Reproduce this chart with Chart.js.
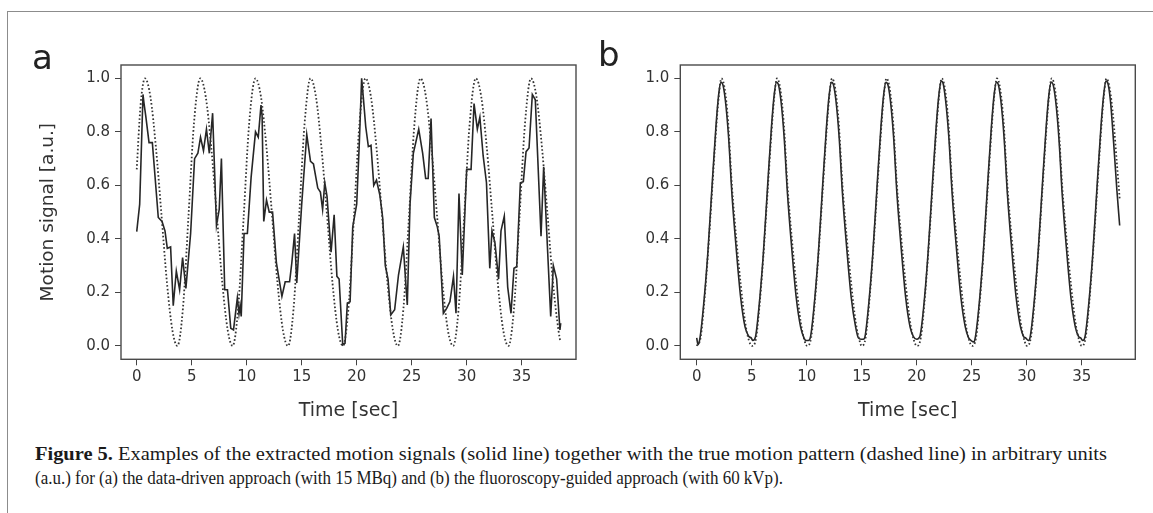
<!DOCTYPE html>
<html><head><meta charset="utf-8">
<script src="https://cdn.jsdelivr.net/npm/chart.js@4.4.1/dist/chart.umd.min.js"></script>
<style>
html,body{margin:0;padding:0;background:#fff;}
#page{position:relative;width:1153px;height:513px;overflow:hidden;background:#fff;}
.frameTop{position:absolute;left:7px;top:11px;width:1146px;height:0;border-top:1.5px solid #8c8c8c;}
.frameLeft{position:absolute;left:7px;top:11px;width:0;height:502px;border-left:1.5px solid #8c8c8c;}
canvas{position:absolute;top:0;}
.plabel{position:absolute;font-family:"DejaVu Sans";font-size:34px;color:#222;line-height:1;}
.cap{position:absolute;left:35px;font-family:"Liberation Serif";font-size:18px;color:#1a1a1a;white-space:nowrap;transform-origin:0 0;line-height:1;}
.cap b{font-family:"Liberation Serif";font-weight:bold;}
</style></head>
<body>
<div id="page">
  <div class="frameTop"></div>
  <div class="frameLeft"></div>
  <canvas id="chartA" width="590" height="430" style="left:0px"></canvas>
  <canvas id="chartB" width="560" height="430" style="left:590px"></canvas>
  <div class="plabel" style="left:32px;top:40px">a</div>
  <div class="plabel" style="left:598px;top:37px">b</div>
  <div class="cap" id="cap1" style="top:445px"><b>Figure 5.</b> Examples of the extracted motion signals (solid line) together with the true motion pattern (dashed line) in arbitrary units</div>
  <div class="cap" id="cap2" style="top:469px">(a.u.) for (a) the data-driven approach (with 15 MBq) and (b) the fluoroscopy-guided approach (with 60 kVp).</div>
</div>
<script>
// ---- data ----
const xTicks = [0, 5, 10, 15, 20, 25, 30, 35];
const yTicks = [0.0, 0.2, 0.4, 0.6, 0.8, 1.0];

// panel a: extracted signal (solid)
const timeA = [0,0.27,0.57,0.65,0.82,1.12,1.42,1.96,2.3,2.57,2.78,3.08,3.32,3.6,3.9,4.17,4.47,4.9,
5.26,5.56,5.8,6.07,6.34,6.6,6.9,7.25,7.5,7.7,8.0,8.25,8.55,8.8,9.15,9.3,9.4,9.5,9.76,
10.06,10.4,10.8,11.05,11.3,11.4,11.55,11.8,12.05,12.35,12.7,13.2,13.5,13.9,14.1,14.35,14.55,
15.0,15.46,15.8,16.07,16.46,16.7,16.9,17.1,17.3,17.67,17.95,18.2,18.4,18.73,18.94,19.15,19.4,19.64,
20.0,20.24,20.45,20.6,20.82,21.06,21.3,21.55,21.8,22.1,22.36,22.6,22.85,23.1,23.45,23.8,24.24,24.6,24.85,
25.15,25.64,26.0,26.27,26.5,26.76,27.06,27.33,27.5,27.88,28.18,28.48,28.8,29.03,29.3,29.6,
30.0,30.4,30.67,30.97,31.2,31.5,31.8,32.1,32.3,32.57,32.9,33.12,33.42,33.73,34.03,34.3,34.55,34.88,
35.15,35.4,35.67,35.97,36.24,36.76,37.0,37.64,37.88,38.18,38.48,38.55];
const signalA = [0.427,0.53,0.94,0.91,0.86,0.76,0.76,0.48,0.465,0.43,0.365,0.37,0.15,0.28,0.21,0.33,0.215,0.42,
0.70,0.72,0.78,0.73,0.81,0.72,0.87,0.45,0.51,0.70,0.21,0.21,0.066,0.06,0.18,0.12,0.15,0.11,0.42,
0.42,0.63,0.80,0.78,0.90,0.86,0.465,0.545,0.50,0.50,0.31,0.185,0.24,0.24,0.31,0.42,0.235,
0.53,0.79,0.69,0.68,0.59,0.575,0.51,0.61,0.56,0.35,0.49,0.26,0.25,0.004,0.01,0.16,0.165,0.445,
0.53,0.76,1.0,0.93,0.82,0.745,0.75,0.60,0.62,0.565,0.48,0.30,0.25,0.116,0.135,0.265,0.37,0.153,0.53,
0.72,0.81,0.72,0.626,0.626,0.85,0.48,0.445,0.41,0.122,0.14,0.166,0.26,0.122,0.57,0.265,
0.66,0.66,0.906,0.81,0.855,0.71,0.61,0.29,0.43,0.385,0.25,0.43,0.485,0.22,0.122,0.29,0.296,0.61,
0.614,0.726,0.74,0.94,0.92,0.41,0.67,0.11,0.30,0.25,0.06,0.085];

// panel a: true motion pattern (dotted)
const truthTimeA = [0,0.35,0.75,
1.25,1.75,2.25,2.75,3.25,3.7,4.2,4.7,5.2,5.78,
6.28,6.78,7.28,7.78,8.28,8.72,9.22,9.72,10.22,10.8,
11.3,11.8,12.3,12.8,13.3,13.76,14.26,14.76,15.26,15.8,
16.3,16.8,17.3,17.8,18.3,18.75,19.25,19.75,20.25,20.8,
21.3,21.8,22.3,22.8,23.3,23.75,24.25,24.75,25.25,25.8,
26.3,26.8,27.3,27.8,28.3,28.77,29.27,29.77,30.27,30.83,
31.33,31.83,32.33,32.83,33.33,33.8,34.3,34.8,35.3,35.85,
36.35,36.85,37.35,37.85,38.35,38.5];
const truthA = [0.66,0.90,1.0,
0.93,0.74,0.49,0.235,0.057,0.0,0.14,0.48,0.83,1.0,
0.93,0.74,0.49,0.235,0.057,0.0,0.14,0.48,0.83,1.0,
0.93,0.74,0.49,0.235,0.057,0.0,0.14,0.48,0.83,1.0,
0.93,0.74,0.49,0.235,0.057,0.0,0.14,0.48,0.83,1.0,
0.93,0.74,0.49,0.235,0.057,0.0,0.14,0.48,0.83,1.0,
0.93,0.74,0.49,0.235,0.057,0.0,0.14,0.48,0.83,1.0,
0.93,0.74,0.49,0.235,0.057,0.0,0.14,0.48,0.83,1.0,
0.93,0.74,0.49,0.235,0.057,0.02];

// panel b: extracted signal (solid)
const timeB = [0,0.12,0.3,0.6,1.0,1.4,1.75,2.0,2.2,2.35,2.6,2.9,3.2,3.6,4.0,4.4,4.75,4.95,5.1,5.35,
5.65,6.05,6.45,6.8,7.05,7.25,7.4,7.65,7.95,8.25,8.65,9.05,9.45,9.75,9.95,10.15,10.35,
10.65,11.05,11.45,11.8,12.05,12.25,12.4,12.65,12.95,13.25,13.65,14.05,14.45,14.7,14.95,15.15,15.3,
15.6,16.0,16.4,16.75,17.0,17.2,17.35,17.6,17.9,18.2,18.6,19.0,19.4,19.7,20.0,20.2,20.32,
20.62,21.02,21.42,21.77,22.02,22.22,22.37,22.62,22.92,23.22,23.62,24.02,24.42,24.72,24.95,25.2,25.34,
25.64,26.04,26.44,26.79,27.04,27.24,27.39,27.64,27.94,28.24,28.64,29.04,29.44,29.72,29.9,30.15,30.32,
30.62,31.02,31.42,31.77,32.02,32.22,32.37,32.62,32.92,33.22,33.62,34.02,34.42,34.72,34.9,35.1,35.3,
35.6,36.0,36.4,36.75,37.0,37.2,37.35,37.6,37.9,38.2,38.45];
const signalB = [0.03,0.005,0.03,0.14,0.34,0.60,0.82,0.94,0.985,0.98,0.92,0.78,0.57,0.36,0.18,0.07,0.035,0.03,0.02,0.035,
0.14,0.34,0.60,0.82,0.94,0.985,0.98,0.92,0.78,0.57,0.36,0.18,0.07,0.03,0.02,0.02,0.035,
0.14,0.34,0.60,0.82,0.94,0.985,0.98,0.92,0.78,0.57,0.36,0.18,0.07,0.03,0.025,0.025,0.035,
0.14,0.34,0.60,0.82,0.94,0.985,0.98,0.92,0.78,0.57,0.36,0.18,0.07,0.035,0.025,0.03,0.04,
0.14,0.34,0.60,0.82,0.94,0.99,0.985,0.92,0.78,0.57,0.36,0.18,0.07,0.03,0.02,0.015,0.035,
0.14,0.34,0.60,0.82,0.94,0.985,0.98,0.92,0.78,0.57,0.36,0.18,0.07,0.035,0.03,0.02,0.035,
0.14,0.34,0.60,0.82,0.94,0.985,0.98,0.92,0.78,0.57,0.36,0.18,0.07,0.035,0.03,0.02,0.035,
0.14,0.34,0.60,0.82,0.94,0.99,0.985,0.92,0.76,0.58,0.45];

// panel b: true motion pattern (dotted)
const truthTimeB = [0,0.35,0.7,1.0,1.4,1.75,2.0,2.25,2.55,2.85,3.2,3.6,4.0,4.4,4.75,
5.05,5.4,5.75,6.05,6.45,6.8,7.05,7.3,7.6,7.9,8.25,8.65,9.05,9.45,9.8,
10.05,10.4,10.75,11.05,11.45,11.8,12.05,12.3,12.6,12.9,13.25,13.65,14.05,14.45,14.8,
15.0,15.35,15.7,16.0,16.4,16.75,17.0,17.25,17.55,17.85,18.2,18.6,19.0,19.4,19.75,
20.02,20.37,20.72,21.02,21.42,21.77,22.02,22.27,22.57,22.87,23.22,23.62,24.02,24.42,24.77,
25.04,25.39,25.74,26.04,26.44,26.79,27.04,27.29,27.59,27.89,28.24,28.64,29.04,29.44,29.79,
30.02,30.37,30.72,31.02,31.42,31.77,32.02,32.27,32.57,32.87,33.22,33.62,34.02,34.42,34.77,
35.0,35.35,35.7,36.0,36.4,36.75,37.0,37.25,37.55,37.85,38.2,38.45];
const truthB = [0,0.03,0.17,0.33,0.58,0.80,0.93,1.0,0.96,0.84,0.60,0.40,0.23,0.09,0.02,
0,0.03,0.17,0.33,0.58,0.80,0.93,1.0,0.96,0.84,0.60,0.40,0.23,0.09,0.02,
0,0.03,0.17,0.33,0.58,0.80,0.93,1.0,0.96,0.84,0.60,0.40,0.23,0.09,0.02,
0,0.03,0.17,0.33,0.58,0.80,0.93,1.0,0.96,0.84,0.60,0.40,0.23,0.09,0.02,
0,0.03,0.17,0.33,0.58,0.80,0.93,1.0,0.96,0.84,0.60,0.40,0.23,0.09,0.02,
0,0.03,0.17,0.33,0.58,0.80,0.93,1.0,0.96,0.84,0.60,0.40,0.23,0.09,0.02,
0,0.03,0.17,0.33,0.58,0.80,0.93,1.0,0.96,0.84,0.60,0.40,0.23,0.09,0.02,
0,0.03,0.17,0.33,0.58,0.80,0.93,1.0,0.96,0.86,0.68,0.55];

// ---- helpers ----
const pts = (xs, ys) => xs.map((x, i) => ({x: x, y: ys[i]}));
const TEXT = '#333';
const TICKFONT = {family: 'DejaVu Sans', size: 15};

const framePlugin = {
  id: 'frame',
  afterDraw(chart) {
    const a = chart.chartArea, ctx = chart.ctx;
    ctx.save();
    ctx.strokeStyle = '#4a4a4a';
    ctx.lineWidth = 1.4;
    ctx.strokeRect(a.left, a.top, a.right - a.left, a.bottom - a.top);
    ctx.restore();
  }
};

function makeChart(id, solid, dotted, opt) {
  return new Chart(document.getElementById(id), {
    type: 'line',
    data: {
      datasets: [
        {data: dotted, borderColor: '#333', borderWidth: 1.8, borderDash: [1.6, 2.2],
         pointRadius: 0, fill: false, cubicInterpolationMode: 'monotone', tension: 0.4},
        {data: solid, borderColor: '#262626', borderWidth: 1.6, pointRadius: 0, fill: false,
         tension: opt.smooth ? 0.4 : 0, cubicInterpolationMode: opt.smooth ? 'monotone' : 'default'}
      ]
    },
    options: {
      responsive: false, animation: false, devicePixelRatio: 1,
      layout: {padding: {top: 65, right: opt.padRight, left: 0, bottom: 0}},
      plugins: {legend: {display: false}, tooltip: {enabled: false}},
      scales: {
        x: {
          type: 'linear', min: opt.xmin, max: opt.xmax,
          afterFit: s => { s.height = 70.7; },
          afterBuildTicks: s => { s.ticks = xTicks.map(v => ({value: v})); },
          grid: {display: true, drawOnChartArea: false, drawTicks: true, tickLength: 6, tickColor: '#444', tickWidth: 1},
          border: {display: false},
          ticks: {color: TEXT, font: TICKFONT, padding: 3, maxRotation: 0, autoSkip: false, callback: v => String(v)},
          title: {display: true, text: 'Time [sec]', color: TEXT, font: {family: 'DejaVu Sans', size: 19}, padding: {top: 0, bottom: 8}}
        },
        y: {
          type: 'linear', min: -0.05, max: 1.05,
          afterFit: s => { s.width = opt.yWidth; },
          afterBuildTicks: s => { s.ticks = yTicks.map(v => ({value: v})); },
          grid: {display: true, drawOnChartArea: false, drawTicks: true, tickLength: 6, tickColor: '#444', tickWidth: 1},
          border: {display: false},
          ticks: {color: TEXT, font: TICKFONT, padding: 5, autoSkip: false, callback: v => v.toFixed(1)},
          title: {display: opt.yTitle, text: 'Motion signal [a.u.]', color: TEXT, font: {family: 'DejaVu Sans', size: 18.5}, padding: {top: 37, bottom: 0}}
        }
      }
    },
    plugins: [framePlugin]
  });
}

makeChart('chartA', pts(timeA, signalA), pts(truthTimeA, truthA),
  {xmin: -1.43, xmax: 39.94, yWidth: 121, padRight: 14, yTitle: true, smooth: false});
makeChart('chartB', pts(timeB, signalB), pts(truthTimeB, truthB),
  {xmin: -1.49, xmax: 39.87, yWidth: 90.3, padRight: 14.7, yTitle: false, smooth: true});

// fit caption lines to the printed widths (condensed journal type)
function fitCap(id, w) {
  const el = document.getElementById(id);
  el.style.transform = 'none';
  const s = w / el.getBoundingClientRect().width;
  el.style.transform = 'scaleX(' + s + ')';
}
function fitAll() { fitCap('cap1', 1072); fitCap('cap2', 748); }
fitAll();
Promise.all([
  document.fonts.load('18px "Liberation Serif"'),
  document.fonts.load('bold 18px "Liberation Serif"')
]).then(fitAll).then(() => document.fonts.ready).then(fitAll);
</script>
</body></html>
